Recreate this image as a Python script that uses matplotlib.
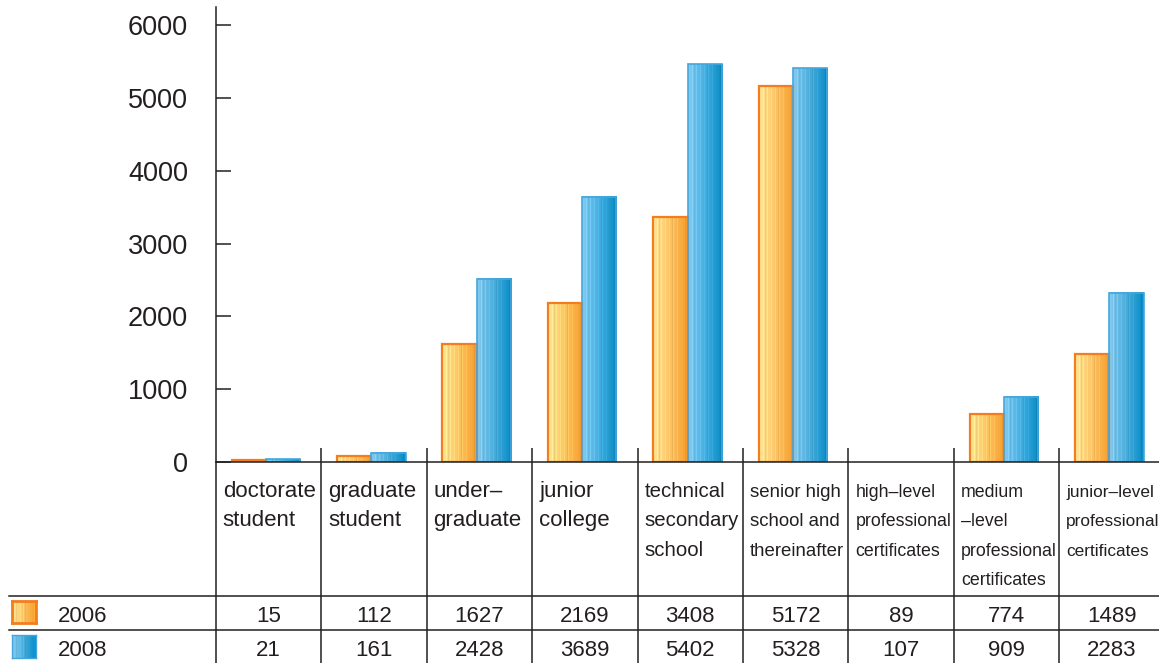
import numpy as np
import matplotlib
matplotlib.use('Agg')
import matplotlib.pyplot as plt
import matplotlib.transforms as mtr
from matplotlib import font_manager
from matplotlib.lines import Line2D
from matplotlib.textpath import TextPath

labels = [['doctorate', 'student'],
          ['graduate', 'student'],
          ['under–', 'graduate'],
          ['junior', 'college'],
          ['technical', 'secondary', 'school'],
          ['senior high', 'school and', 'thereinafter'],
          ['high–level', 'professional', 'certificates'],
          ['medium', '–level', 'professional', 'certificates'],
          ['junior–level', 'professional', 'certificates']]
years = ['2006', '2008']
table_2006 = [15, 112, 1627, 2169, 3408, 5172, 89, 774, 1489]
table_2008 = [21, 161, 2428, 3689, 5402, 5328, 107, 909, 2283]
# bar heights as drawn in the picture (they do not follow the table exactly)
bars_2006 = [25, 85, 1620, 2190, 3370, 5165, 0, 665, 1480]
bars_2008 = [40, 125, 2515, 3640, 5460, 5405, 0, 897, 2325]
yticks = [0, 1000, 2000, 3000, 4000, 5000, 6000]

W, H = 1159, 663
INK = '#231F20'
names = {f.name for f in font_manager.fontManager.ttflist}
BASE = 'Liberation Sans' if 'Liberation Sans' in names else 'DejaVu Sans'
NARROW = 'Liberation Sans Narrow' if 'Liberation Sans Narrow' in names else BASE
plt.rcParams['font.family'] = [BASE, 'DejaVu Sans']


def fx(p):
    return p / W


def fy(p):
    return (H - p) / H


def text_px(s, family, size):
    prop = font_manager.FontProperties(family=family, size=size)
    return TextPath((0, 0), s, size=size, prop=prop).get_extents().width * 100 / 72


def gradient(c0, c1, n=60):
    c0 = np.array(matplotlib.colors.to_rgb(c0))
    c1 = np.array(matplotlib.colors.to_rgb(c1))
    t = np.linspace(0, 1, n)[:, None]
    rgb = c0 * (1 - t) + c1 * t
    k = np.arange(n)
    mod = 1 + 0.08 * ((k * 5) % 7 == 0) - 0.06 * ((k * 3) % 11 == 0)
    rgb = np.clip(rgb * mod[:, None], 0, 1)
    return rgb[None, :, :]


orange = gradient('#FFE898', '#F89D2C')
blue = gradient('#86CCF0', '#078CC6')

fig = plt.figure(figsize=(W / 100, H / 100), dpi=100)
colw = 105.45
left = 215.7
ax = fig.add_axes([fx(left), fy(462), fx(W - left), (462 - 7) / H])

width = 0.325
split = -0.025
for i in range(len(labels)):
    for h, grad, x0, ec, lw in [
            (bars_2006[i], orange, i + split - width, '#F47D20', 1.6),
            (bars_2008[i], blue, i + split, '#46A5DC', 1.2)]:
        if h <= 0:
            continue
        ax.imshow(grad, extent=(x0, x0 + width, 0, h), aspect='auto',
                  interpolation='nearest', zorder=2)
        ax.bar(x0, h, width, align='edge', facecolor='none',
               edgecolor=ec, linewidth=lw, zorder=3)

ax.set_xlim(-0.5, -0.5 + (W - left) / colw)
ax.set_ylim(0, 455 / 72.83 * 1000)
ax.set_xticks([])
ax.set_yticks(yticks)
ax.tick_params(axis='y', direction='in', length=10.8, width=1.1,
               labelsize=19.5, pad=19.8, color=INK, labelcolor=INK)
for side in ['top', 'right']:
    ax.spines[side].set_visible(False)
for side in ['left', 'bottom']:
    ax.spines[side].set_color(INK)
    ax.spines[side].set_linewidth(1.1)
    ax.spines[side].set_zorder(4)

# table grid
blend = mtr.blended_transform_factory(ax.transData, fig.transFigure)
ax.vlines([i + 0.5 for i in range(len(labels) - 1)], fy(448), fy(H),
          transform=blend, color=INK, lw=1.1, clip_on=False)
ax.vlines([-0.5], fy(462), fy(H), transform=blend, color=INK, lw=1.1,
          clip_on=False)
for yp in [596, 630]:
    fig.add_artist(Line2D([fx(9), 1], [fy(yp), fy(yp)], color=INK, lw=1.1))

# category labels, shrunk per column so the widest line fits
for i, lines in enumerate(labels):
    x_px = left + i * colw + 7
    room = min(x_px + colw - 12, W - 2) - x_px
    fam = BASE if i < 4 else NARROW
    widest = max(text_px(s, fam, 16) for s in lines)
    size = min(16, 16 * room / widest)
    for k, line in enumerate(lines):
        ax.text(i - 0.5 + 7 / colw, fy(497 + 29.3 * k), line,
                transform=blend, ha='left', va='baseline',
                fontsize=size, family=[fam, 'DejaVu Sans'], color=INK)

# table rows
for row, (year, vals, grad, ec, lw, top, bot) in enumerate([
        (years[0], table_2006, orange, '#F47D20', 2.0, 601, 623),
        (years[1], table_2008, blue, '#46A5DC', 1.0, 635, 658)]):
    base = [621.7, 656][row]
    sw = fig.add_axes([fx(12), fy(bot), fx(24), (bot - top) / H])
    sw.imshow(grad, aspect='auto', interpolation='nearest')
    sw.set_xticks([])
    sw.set_yticks([])
    for s in sw.spines.values():
        s.set_color(ec)
        s.set_linewidth(lw)
    fig.text(fx(58), fy(base), year, ha='left', va='baseline',
             fontsize=16, color=INK)
    for i, v in enumerate(vals):
        ax.text(i, fy(base), str(v), transform=blend, ha='center',
                va='baseline', fontsize=16, color=INK)

fig.savefig('out.png', dpi=100)
